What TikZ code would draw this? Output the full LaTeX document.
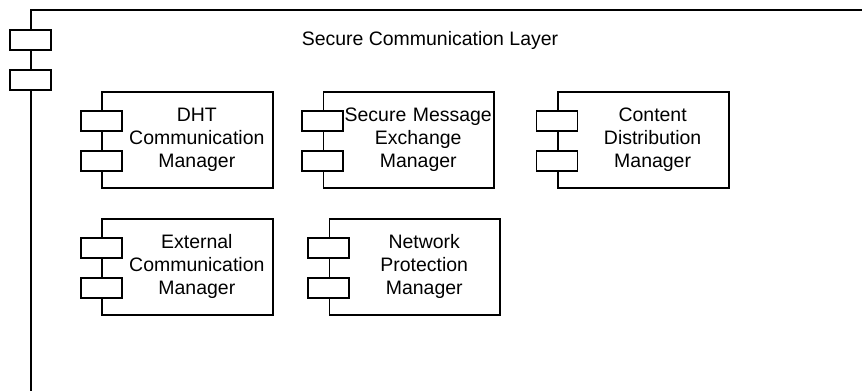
\documentclass[tikz,border=0pt]{standalone}
\usepackage{fontspec}
\setmainfont{Liberation Sans}
\usetikzlibrary{positioning}

\tikzset{
  compbox/.style={draw, line width=1.3pt, minimum width=128pt, minimum height=72pt,
    inner sep=0pt, text width=128pt,
    execute at begin node={\centering\leftskip=14pt plus 1fil\relax},
    font=\fontsize{14.6}{17.25}\selectfont},
  tabbox/.style={draw, line width=1.3pt, fill=white},
  frameline/.style={line width=1.3pt}
}

\begin{document}
\begin{tikzpicture}[x=0.75pt, y=-0.75pt]
  \useasboundingbox (0,0) rectangle (862,390);
  \clip (0,0) rectangle (862,390);
  % outer layer frame, runs off the page to the right and bottom
  \draw[frameline] (31,400) -- (31,10) -- (900,10);
  \draw[tabbox] (10,30) rectangle (51,50);
  \draw[tabbox] (10,70) rectangle (51,90);
  \node[font=\fontsize{14.6}{17.25}\selectfont, anchor=base] (title) at (430,45) {Secure Communication Layer};
  % components
  \node[compbox] (dht) at (187.5,140) {DHT\\Communication\\Manager};
  \node[compbox, right=36.75pt of dht] (secmsg) {Secure Message\\Exchange\\Manager};
  \node[compbox, right=46.5pt of secmsg] (content) {Content\\Distribution\\Manager};
  \node[compbox, below=21.75pt of dht] (external) {External\\Communication\\Manager};
  \node[compbox, right=41.25pt of external] (netprot) {Network\\Protection\\Manager};
  % the two small tabs on each component
  \foreach \n in {dht,secmsg,content,external,netprot} {
    \draw[tabbox] ([xshift=-15.4pt,yshift=-15pt]\n.north west) rectangle ++(30.75pt,-15pt);
    \draw[tabbox] ([xshift=-15.4pt,yshift=-45pt]\n.north west) rectangle ++(30.75pt,-15pt);
  }
\end{tikzpicture}
\end{document}
